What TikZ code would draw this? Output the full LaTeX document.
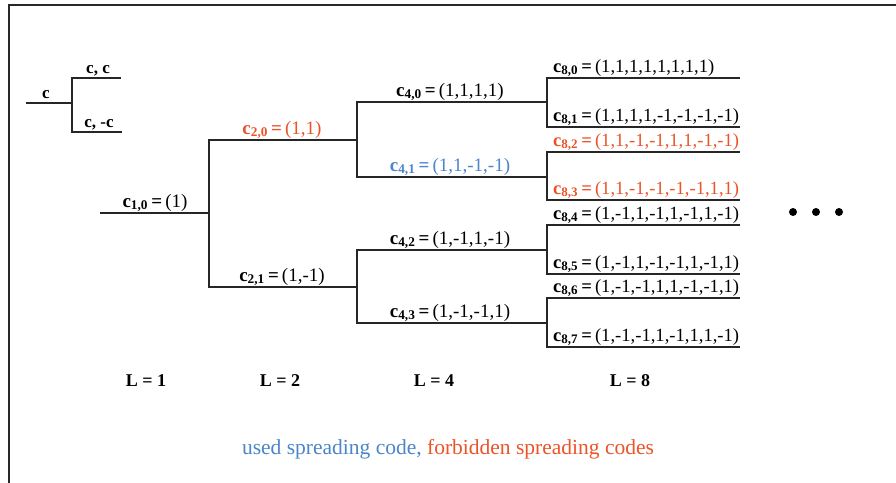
\documentclass[tikz,border=0pt]{standalone}
\usepackage{fontspec}
\setmainfont{Liberation Serif}
\definecolor{forbid}{RGB}{236,84,40}
\definecolor{used}{RGB}{74,134,200}
\definecolor{framegray}{RGB}{40,40,40}
\newcommand\ovsf[2]{\textbf{c}\textsubscript{\bfseries #1}\,\textbf{=}\,(#2)}
\tikzset{
  branch/.style={line width=1.6pt, draw=black!85},
  lbl/.style={anchor=base, inner sep=0pt, font=\fontsize{19}{22}\selectfont},
  leaf/.style={anchor=base west, inner sep=0pt, font=\fontsize{18.6}{22}\selectfont},
  small/.style={anchor=base, inner sep=0pt, font=\fontsize{17}{20}\selectfont\bfseries},
  level/.style={anchor=base, inner sep=0pt, font=\fontsize{18}{20}\selectfont\bfseries},
  dot/.style={circle, fill=black, inner sep=0pt, minimum size=8pt}
}
\begin{document}
\begin{tikzpicture}[x=1pt,y=-1pt]
\useasboundingbox (0,0) rectangle (896,482);
\clip (0,0) rectangle (896,482);
\fill[white] (0,0) rectangle (896,482);
\draw[line width=1.8pt, framegray] (9,5) rectangle (920,500);

% general split rule: c -> (c,c) and (c,-c)
\coordinate (g0) at (26,103);
\coordinate (gj) at (72,103);
\coordinate (g1) at (121,78);
\coordinate (g2) at (122,132);
\draw[branch] (g0) -- (gj);
\draw[branch] (gj) |- (g1);
\draw[branch] (gj) |- (g2);
\node[small] (gl0) at (46,98) {c};
\node[small] (gl1) at (98,73) {c, c};
\node[small] (gl2) at (99,127) {c, -c};

% code tree ends
\coordinate (r0)  at (100,213);
\coordinate (c10) at (209,213);
\coordinate (c20) at (357,140);
\coordinate (c21) at (357,287);
\coordinate (c40) at (547,102);
\coordinate (c41) at (547,177);
\coordinate (c42) at (547,250);
\coordinate (c43) at (547,323);
\coordinate (c80) at (740,78);
\coordinate (c81) at (740,127);
\coordinate (c82) at (740,152);
\coordinate (c83) at (740,200);
\coordinate (c84) at (740,225);
\coordinate (c85) at (740,274);
\coordinate (c86) at (740,298);
\coordinate (c87) at (740,347);

\draw[branch] (r0) -- (c10);
\draw[branch] (c10) |- (c20);
\draw[branch] (c10) |- (c21);
\draw[branch] (c20) |- (c40);
\draw[branch] (c20) |- (c41);
\draw[branch] (c21) |- (c42);
\draw[branch] (c21) |- (c43);
\draw[branch] (c40) |- (c80);
\draw[branch] (c40) |- (c81);
\draw[branch] (c41) |- (c82);
\draw[branch] (c41) |- (c83);
\draw[branch] (c42) |- (c84);
\draw[branch] (c42) |- (c85);
\draw[branch] (c43) |- (c86);
\draw[branch] (c43) |- (c87);

% code labels
\node[lbl] (l10) at (155,207) {\ovsf{1,0}{1}};
\node[lbl, text=forbid] (l20) at (282,134) {\ovsf{2,0}{1,1}};
\node[lbl] (l21) at (282,281) {\ovsf{2,1}{1,-1}};
\node[lbl] (l40) at (450,96) {\ovsf{4,0}{1,1,1,1}};
\node[lbl, text=used] (l41) at (450,171) {\ovsf{4,1}{1,1,-1,-1}};
\node[lbl] (l42) at (450,244) {\ovsf{4,2}{1,-1,1,-1}};
\node[lbl] (l43) at (450,317) {\ovsf{4,3}{1,-1,-1,1}};
\node[leaf] (l80) at (553,72) {\ovsf{8,0}{1,1,1,1,1,1,1,1}};
\node[leaf] (l81) at (553,121) {\ovsf{8,1}{1,1,1,1,-1,-1,-1,-1}};
\node[leaf, text=forbid] (l82) at (553,146) {\ovsf{8,2}{1,1,-1,-1,1,1,-1,-1}};
\node[leaf, text=forbid] (l83) at (553,194) {\ovsf{8,3}{1,1,-1,-1,-1,-1,1,1}};
\node[leaf] (l84) at (553,219) {\ovsf{8,4}{1,-1,1,-1,1,-1,1,-1}};
\node[leaf] (l85) at (553,268) {\ovsf{8,5}{1,-1,1,-1,-1,1,-1,1}};
\node[leaf] (l86) at (553,292) {\ovsf{8,6}{1,-1,-1,1,1,-1,-1,1}};
\node[leaf] (l87) at (553,341) {\ovsf{8,7}{1,-1,-1,1,-1,1,1,-1}};

% continuation dots
\node[dot] (d1) at (793,212) {};
\node[dot] (d2) at (816,212) {};
\node[dot] (d3) at (839,212) {};

% code lengths
\node[level] (L1) at (146,386) {L = 1};
\node[level] (L2) at (280,386) {L = 2};
\node[level] (L4) at (434,386) {L = 4};
\node[level] (L8) at (630,386) {L = 8};

% legend
\node[anchor=base, inner sep=0pt, font=\fontsize{21.5}{24}\selectfont] (legend) at (448,454)
  {\textcolor{used}{used spreading code}\textcolor{used}{,} \textcolor{forbid}{forbidden spreading codes}};
\end{tikzpicture}
\end{document}
